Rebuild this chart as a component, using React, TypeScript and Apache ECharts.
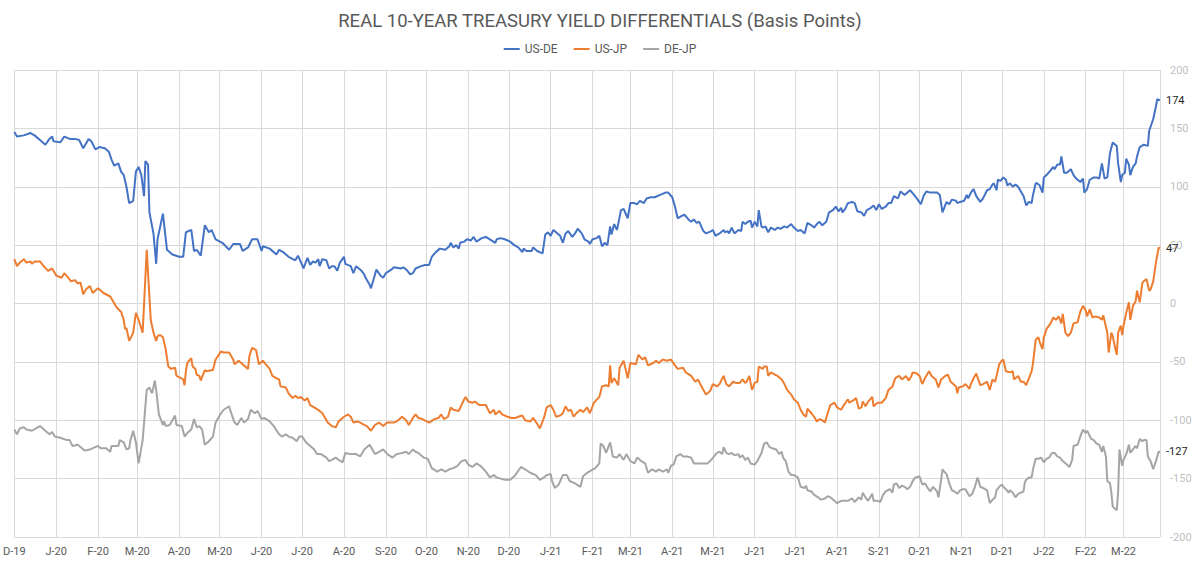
import React, { useEffect, useRef } from "react";
import * as echarts from "echarts";

// Day offsets are counted from 1 Dec 2019; values are basis points.
const usDeDays = [0,2,7,12,15,19,23,26,28,29,34,37,41,45,48,51,55,57,60,63,67,70,72,74,77,79,81,83,85,88,90,92,94,96,97,99,100,103,105,106,110,113,117,122,125,127,131,133,135,138,141,144,146,149,154,159,162,167,169,173,176,180,183,184,189,194,196,199,203,208,210,213,214,217,219,221,223,225,226,228,231,233,235,237,239,241,244,245,249,251,253,255,257,259,260,263,264,266,268,271,273,275,279,281,286,288,291,293,295,297,301,304,307,309,312,315,319,322,323,325,327,329,330,333,335,338,340,342,346,349,352,356,357,360,363,367,370,373,376,377,379,383,384,387,391,393,395,397,399,402,404,406,408,410,413,415,417,420,422,425,426,428,431,433,435,437,439,441,442,444,446,447,449,451,454,456,459,461,463,466,468,471,474,478,482,484,487,489,491,494,496,499,501,503,505,507,510,512,516,517,519,522,525,526,528,529,531,533,536,538,539,541,543,545,546,548,550,551,553,554,556,558,560,563,565,567,570,572,575,577,580,582,585,587,590,592,594,596,598,601,603,606,608,610,612,613,615,617,620,622,624,627,629,631,634,636,638,640,642,645,647,649,651,654,656,659,661,663,666,668,671,673,675,678,681,683,685,687,689,690,692,694,697,698,700,703,705,706,708,710,712,715,717,720,722,724,725,727,728,730,732,734,735,737,739,741,743,746,747,749,751,753,754,756,757,759,761,762,764,767,769,770,772,774,775,777,779,782,784,786,789,791,792,794,796,799,801,803,805,807,809,811,813,816,817,819,820,822,823,825,826,828,830,831,833,836,839,840,843,845,846,848];
const usDeValues = [147,143,144,146,144,140,136,141,143,139,138,143,141,141,140,133,141,139,132,134,133,130,123,118,120,113,110,100,86,88,113,117,110,92,122,119,78,60,34,55,77,46,42,40,40,61,63,45,46,41,67,61,63,55,52,46,51,51,45,48,55,55,45,49,47,42,46,44,40,37,41,33,30,39,33,36,35,38,32,38,37,30,32,32,28,35,40,34,32,26,32,30,28,25,22,16,13,21,29,24,22,26,29,31,30,31,28,25,26,30,32,33,33,40,44,47,46,49,52,48,50,47,52,53,55,54,57,53,56,57,55,52,55,56,55,53,50,48,44,47,45,45,48,45,43,59,61,58,63,60,58,52,60,62,57,60,64,60,55,53,51,55,56,58,49,52,50,66,59,68,63,68,80,81,73,86,86,85,88,86,90,91,91,93,95,95,91,83,73,75,76,72,70,72,69,70,62,60,62,63,58,60,63,61,62,60,65,60,63,62,70,68,70,71,65,70,66,80,66,65,66,61,65,63,65,64,66,65,68,65,62,63,60,69,67,65,68,70,67,70,78,80,83,79,82,78,81,86,87,86,79,78,75,80,82,84,80,85,81,83,86,86,92,90,96,93,95,97,93,90,85,92,96,95,95,95,93,78,84,87,85,89,88,86,87,88,93,90,95,98,92,87,90,97,98,102,103,97,106,105,108,106,101,103,100,102,100,94,92,84,87,86,93,103,103,101,95,108,110,114,117,115,119,119,126,112,112,115,110,107,104,107,95,98,106,108,108,107,120,107,108,129,138,135,120,104,110,112,124,119,110,117,120,126,134,136,135,148,158,169,175,174];

const usJpDays = [0,2,4,7,9,12,13,15,19,21,25,28,31,35,37,40,42,45,47,49,51,53,56,58,62,66,71,75,77,79,81,82,83,85,88,90,92,95,98,101,103,105,106,108,110,112,114,116,119,120,122,125,126,127,128,130,131,132,134,135,137,138,141,142,147,149,153,155,159,162,163,166,169,173,174,176,179,181,184,186,189,191,194,196,197,201,203,206,208,210,212,215,217,219,222,226,228,232,235,238,240,244,247,249,251,254,256,259,261,264,267,270,273,276,281,283,287,290,292,295,297,299,302,307,311,314,316,318,321,323,325,329,333,334,336,339,341,344,349,352,355,356,359,361,365,368,371,373,376,378,382,384,387,389,392,394,397,399,401,404,406,408,410,412,414,416,419,421,424,426,429,433,435,438,440,441,442,444,447,448,451,454,456,460,462,465,467,469,473,475,477,480,483,486,489,491,495,497,501,504,506,509,512,515,517,520,522,525,527,529,532,534,537,539,541,542,544,546,548,550,551,554,555,557,558,560,563,565,568,570,572,575,577,580,582,584,586,587,590,592,594,596,598,600,602,604,607,609,612,614,617,618,621,623,625,627,628,630,632,635,636,639,642,645,647,650,652,655,657,660,662,664,665,668,670,672,674,677,679,682,684,686,689,691,693,695,697,698,699,702,704,707,708,710,712,715,717,720,722,724,726,727,729,731,732,734,737,739,740,743,745,747,749,751,753,754,756,758,759,761,762,764,767,769,771,773,775,776,778,780,782,784,787,789,791,793,794,796,798,800,803,805,806,809,810,812,813,815,816,817,819,820,821,823,825,826,828,830,831,833,835,836,838,840,841,843,845,847,848];
const usJpValues = [38,32,35,38,35,36,34,36,36,33,28,30,24,22,26,22,19,20,17,18,8,12,15,9,13,9,6,-2,-5,-7,-14,-22,-21,-32,-25,-8,-14,-25,46,-14,-25,-32,-28,-27,-29,-39,-54,-56,-55,-62,-63,-65,-70,-58,-51,-48,-47,-54,-56,-61,-62,-66,-57,-58,-57,-48,-41,-42,-42,-48,-52,-49,-52,-56,-45,-38,-40,-52,-49,-52,-56,-62,-64,-65,-71,-72,-77,-81,-79,-81,-80,-83,-81,-87,-89,-92,-94,-102,-105,-106,-101,-97,-95,-97,-102,-101,-102,-104,-105,-109,-104,-102,-105,-102,-102,-101,-97,-100,-104,-98,-95,-98,-99,-102,-99,-98,-95,-99,-97,-89,-91,-92,-82,-80,-84,-85,-84,-87,-87,-94,-91,-95,-92,-95,-97,-98,-98,-97,-96,-100,-101,-98,-103,-107,-98,-89,-87,-91,-97,-96,-94,-88,-92,-91,-97,-94,-91,-93,-89,-94,-85,-80,-71,-70,-71,-53,-68,-64,-70,-55,-49,-64,-51,-52,-44,-48,-46,-53,-51,-49,-51,-48,-49,-48,-53,-56,-55,-59,-62,-67,-65,-72,-78,-75,-69,-71,-69,-62,-69,-71,-67,-68,-68,-65,-68,-67,-62,-74,-68,-67,-54,-56,-54,-54,-62,-59,-61,-62,-65,-69,-74,-78,-82,-85,-91,-95,-97,-90,-94,-97,-101,-99,-100,-102,-94,-87,-85,-89,-91,-87,-82,-85,-83,-81,-90,-89,-84,-88,-84,-80,-88,-85,-85,-81,-74,-71,-64,-62,-65,-62,-66,-62,-59,-60,-62,-69,-64,-58,-62,-65,-72,-65,-62,-61,-67,-69,-71,-77,-72,-71,-69,-73,-69,-64,-60,-70,-69,-67,-74,-65,-67,-62,-52,-49,-48,-58,-59,-58,-65,-62,-67,-67,-70,-64,-58,-51,-31,-29,-33,-39,-29,-22,-17,-12,-14,-11,-17,-9,-25,-28,-25,-17,-16,-7,-2,-6,-11,-5,-12,-11,-12,-14,-10,-25,-42,-25,-28,-39,-44,-25,-19,-27,-19,-8,1,-14,-2,2,11,1,18,19,21,11,12,19,35,48,47];

const deJpDays = [0,2,4,7,9,13,16,19,23,26,28,30,34,39,41,43,47,52,56,62,64,68,71,72,77,78,81,83,85,86,88,90,92,95,98,100,102,104,105,107,110,111,112,115,119,120,124,126,128,131,133,135,137,139,141,144,147,149,153,155,159,160,163,165,168,170,173,175,178,180,183,185,189,192,196,198,201,203,206,209,211,213,216,218,222,224,227,231,233,235,238,240,243,245,249,253,256,259,263,265,267,270,273,276,280,283,287,290,292,295,297,299,303,306,309,313,316,319,322,325,328,331,334,336,339,342,345,349,352,355,357,360,363,367,370,372,375,378,382,386,389,392,394,397,398,400,403,406,409,411,415,419,421,424,427,430,433,434,436,438,441,443,446,448,451,453,456,459,461,464,467,469,472,475,477,480,483,484,486,488,490,493,495,498,501,503,506,511,513,515,518,520,522,524,525,527,529,531,533,536,537,539,541,543,545,548,550,553,555,557,559,561,564,566,568,569,571,573,575,577,580,582,585,586,587,590,592,595,597,600,602,604,607,609,612,614,617,620,622,625,627,628,630,632,635,636,639,641,643,645,648,650,651,653,655,657,659,661,663,665,667,670,672,674,676,678,680,683,684,686,687,689,690,692,694,696,698,700,702,704,707,709,711,713,715,717,720,722,724,726,727,729,731,732,734,736,737,739,741,743,745,747,748,749,751,753,754,756,758,760,762,764,766,768,770,772,774,776,779,781,783,784,787,789,791,793,794,795,797,799,801,803,805,806,808,809,811,812,813,816,817,818,820,821,823,825,826,828,830,831,833,835,836,838,839,841,843,845,847,848];
const deJpValues = [-108,-112,-107,-106,-108,-109,-107,-105,-109,-112,-110,-114,-115,-117,-117,-122,-121,-126,-125,-122,-124,-124,-127,-122,-122,-117,-119,-125,-124,-117,-109,-119,-137,-117,-74,-72,-77,-66,-74,-95,-104,-101,-105,-104,-96,-104,-105,-114,-111,-108,-99,-106,-105,-108,-121,-118,-114,-102,-94,-91,-88,-92,-102,-104,-98,-102,-99,-91,-94,-92,-99,-98,-101,-105,-112,-114,-112,-114,-115,-118,-114,-114,-119,-121,-125,-129,-129,-132,-135,-134,-132,-134,-136,-128,-129,-129,-131,-125,-121,-125,-129,-127,-125,-129,-132,-129,-128,-127,-129,-125,-127,-128,-132,-133,-141,-144,-142,-144,-142,-141,-139,-135,-134,-138,-140,-137,-139,-144,-149,-147,-149,-150,-151,-151,-148,-145,-140,-142,-145,-147,-151,-149,-147,-146,-152,-158,-155,-147,-147,-152,-154,-157,-148,-145,-143,-141,-137,-120,-122,-128,-119,-131,-132,-129,-134,-129,-135,-137,-132,-135,-137,-145,-142,-144,-142,-144,-142,-145,-139,-138,-131,-129,-131,-131,-132,-137,-137,-137,-137,-135,-131,-128,-127,-129,-123,-128,-129,-128,-130,-129,-132,-130,-134,-132,-137,-138,-135,-128,-120,-119,-123,-124,-125,-129,-127,-132,-135,-144,-147,-147,-149,-157,-158,-156,-160,-161,-164,-166,-168,-167,-165,-166,-169,-171,-169,-169,-169,-167,-170,-166,-168,-162,-166,-169,-163,-169,-169,-170,-164,-161,-159,-162,-155,-154,-158,-156,-157,-159,-157,-152,-149,-148,-155,-154,-158,-161,-157,-161,-166,-151,-142,-145,-146,-154,-160,-161,-163,-160,-159,-159,-165,-163,-157,-149,-157,-158,-160,-171,-168,-166,-160,-157,-155,-157,-159,-162,-160,-162,-166,-163,-162,-161,-153,-151,-149,-149,-142,-133,-133,-132,-136,-133,-132,-128,-128,-131,-132,-135,-138,-140,-134,-122,-121,-114,-108,-111,-109,-111,-116,-117,-120,-121,-127,-122,-131,-152,-154,-162,-174,-177,-162,-125,-139,-134,-129,-121,-128,-125,-122,-124,-116,-118,-117,-117,-131,-135,-142,-135,-127,-127];

const seriesNames = ["US-DE", "US-JP", "DE-JP"];
const seriesColors = ["#4472c4", "#ed7d31", "#a5a5a5"];
const monthLetters = ["J", "F", "M", "A", "M", "J", "J", "A", "S", "O", "N", "D"];

const DAY = 86400000;
const START = new Date(2019, 11, 1).getTime();
const LAST_DAY = 848;

function toPairs(days: number[], values: number[]) {
  return days.map((d, i) => [START + d * DAY, values[i]]);
}

export default function App() {
  const ref = useRef<HTMLDivElement>(null);

  useEffect(() => {
    if (!ref.current) return;
    const chart = echarts.init(ref.current, null, { renderer: "svg" });
    const font = "Roboto, 'Noto Sans', sans-serif";
    const allSeries = [
      toPairs(usDeDays, usDeValues),
      toPairs(usJpDays, usJpValues),
      toPairs(deJpDays, deJpValues),
    ];
    chart.setOption({
      animation: false,
      backgroundColor: "#ffffff",
      textStyle: { fontFamily: font },
      title: {
        text: "REAL 10-YEAR TREASURY YIELD DIFFERENTIALS (Basis Points)",
        left: "center",
        top: 6,
        textStyle: { fontSize: 18.5, fontWeight: "normal", color: "#595959", fontFamily: font },
      },
      legend: {
        top: 38,
        left: "center",
        itemWidth: 16,
        itemHeight: 2,
        itemGap: 16,
        icon: "rect",
        textStyle: { fontSize: 12, color: "#595959", fontFamily: font },
        data: seriesNames,
      },
      grid: { left: 11, right: 40, top: 70, bottom: 27 },
      xAxis: {
        type: "time",
        min: START,
        max: START + LAST_DAY * DAY,
        splitNumber: 28,
        minInterval: 28 * DAY,
        maxInterval: 31 * DAY,
        axisLine: { show: false },
        axisTick: { show: false },
        splitLine: { show: true, lineStyle: { color: "#d9d9d9", width: 1 } },
        axisLabel: {
          color: "#595959",
          fontSize: 11,
          margin: 9,
          showMinLabel: true,
          showMaxLabel: false,
          hideOverlap: false,
          formatter: (val: number) => {
            const dt = new Date(val);
            return monthLetters[dt.getMonth()] + "-" + String(dt.getFullYear()).slice(2);
          },
        },
      },
      yAxis: {
        type: "value",
        position: "right",
        min: -200,
        max: 200,
        interval: 50,
        axisLine: { show: false },
        axisTick: { show: false },
        splitLine: { lineStyle: { color: "#d9d9d9", width: 1 } },
        axisLabel: { color: "#bfbfbf", fontSize: 11, margin: 10 },
      },
      series: allSeries.map((data, i) => ({
        name: seriesNames[i],
        type: "line",
        data,
        symbol: "none",
        lineStyle: { color: seriesColors[i], width: 2 },
        itemStyle: { color: seriesColors[i] },
        endLabel: {
          show: true,
          distance: 6,
          color: "#262626",
          fontSize: 11,
          formatter: (p: any) => String(p.value[1]),
        },
      })),
    });
    return () => chart.dispose();
  }, []);

  return (
    <div
      ref={ref}
      style={{ position: "absolute", left: 0, top: 0, width: 1200, height: 564 }}
    />
  );
}
